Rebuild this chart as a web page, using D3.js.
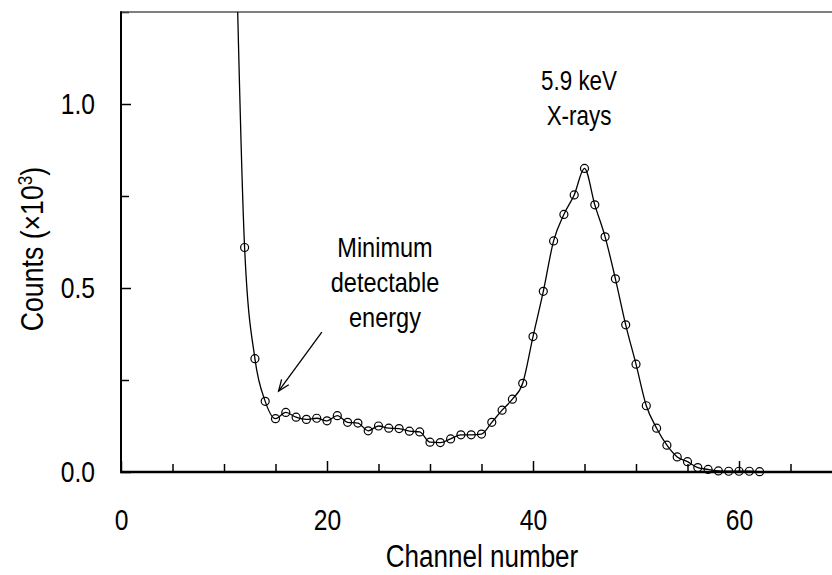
<!DOCTYPE html>
<html>
<head>
<meta charset="utf-8">
<script src="https://cdn.jsdelivr.net/npm/d3@7"></script>
<style>
  body { margin: 0; background: #fff; }
  svg { display: block; }
  text { font-family: "Liberation Sans", Arial, sans-serif; fill: #000; }
  .tick text { font-size: 30px; }
</style>
</head>
<body>
<div id="wrapper"></div>
<script>
// data (counts in units of 10^3)
const channels = [12, 13, 14, 15, 16, 17, 18, 19, 20, 21, 22, 23, 24, 25, 26, 27, 28, 29, 30, 31,
  32, 33, 34, 35, 36, 37, 38, 39, 40, 41, 42, 43, 44, 45, 46, 47, 48, 49, 50, 51,
  52, 53, 54, 55, 56, 57, 58, 59, 60, 61, 62]
const counts = [0.610, 0.308, 0.192, 0.145, 0.162, 0.149, 0.143, 0.146, 0.139, 0.153,
  0.135, 0.133, 0.112, 0.125, 0.119, 0.118, 0.111, 0.109, 0.081, 0.080,
  0.090, 0.101, 0.101, 0.103, 0.135, 0.168, 0.198, 0.241, 0.368, 0.491,
  0.628, 0.700, 0.753, 0.825, 0.726, 0.639, 0.525, 0.400, 0.293, 0.180,
  0.119, 0.073, 0.041, 0.028, 0.012, 0.007, 0.003, 0.002, 0.002, 0.002, 0.001]
// the fitted line keeps rising off the top of the plot below channel 12
const tailChannels = [11]
const tailCounts = [1.65]

const xMinorTicks = [5, 10, 15, 25, 30, 35, 45, 50, 55, 65]
const xMajorTicks = [0, 20, 40, 60]
const yMinorTicks = [0.25, 0.75, 1.25]
const yMajorTicks = [0.0, 0.5, 1.0]

const peakLabel = ["5.9 keV", "X-rays"]
const thresholdLabel = ["Minimum", "detectable", "energy"]

// the original uses a condensed face; squeeze Liberation Sans to match
const condense = (sel, k) => sel.each(function() {
  const len = this.getComputedTextLength()
  d3.select(this)
      .attr("textLength", len * k)
      .attr("lengthAdjust", "spacingAndGlyphs")
})

function drawChart() {
  const width = 832
  const height = 575
  const left = 121, right = 842, top = 12, bottom = 472

  const svg = d3.select("#wrapper")
    .append("svg")
      .attr("width", width)
      .attr("height", height)

  const x = d3.scaleLinear().domain([0, 70]).range([left, right])
  const y = d3.scaleLinear().domain([0, 1.25]).range([bottom, top])

  // axes (ticks point inward)
  svg.append("g")
      .attr("transform", `translate(0,${bottom})`)
      .call(d3.axisBottom(x).tickValues(xMinorTicks).tickSize(-8).tickFormat(""))
  svg.append("g")
      .attr("transform", `translate(0,${bottom})`)
      .call(d3.axisBottom(x).tickValues(xMajorTicks).tickSize(-11).tickPadding(37).tickFormat(d3.format("d")))
  svg.append("g")
      .attr("transform", `translate(${left},0)`)
      .call(d3.axisLeft(y).tickValues(yMinorTicks).tickSize(-8).tickFormat(""))
  svg.append("g")
      .attr("transform", `translate(${left},0)`)
      .call(d3.axisLeft(y).tickValues(yMajorTicks).tickSize(-10).tickPadding(26).tickFormat(d3.format(".1f")))

  svg.selectAll(".domain").remove()
  svg.selectAll(".tick line").attr("stroke", "#000").attr("stroke-width", 1.5)
  svg.selectAll(".tick text").attr("font-family", null).attr("font-size", null)
  condense(svg.selectAll(".tick text"), 0.82)

  // frame
  svg.append("line")
      .attr("x1", left).attr("x2", width)
      .attr("y1", top).attr("y2", top)
      .attr("stroke", "#555").attr("stroke-width", 1.5)
  svg.append("line")
      .attr("x1", left).attr("x2", left)
      .attr("y1", top - 0.75).attr("y2", bottom)
      .attr("stroke", "#000").attr("stroke-width", 2)
  svg.append("line")
      .attr("x1", left - 1).attr("x2", width)
      .attr("y1", bottom).attr("y2", bottom)
      .attr("stroke", "#000").attr("stroke-width", 2.5)

  // data line
  svg.append("clipPath").attr("id", "plot-clip")
    .append("rect")
      .attr("x", left).attr("y", top)
      .attr("width", right - left).attr("height", bottom - top)

  const linePoints = tailChannels.map((c, i) => [c, tailCounts[i]])
    .concat(channels.map((c, i) => [c, counts[i]]))

  const lineGenerator = d3.line()
      .x(d => x(d[0]))
      .y(d => y(d[1]))
      .curve(d3.curveMonotoneX)

  svg.append("path")
      .attr("clip-path", "url(#plot-clip)")
      .attr("d", lineGenerator(linePoints))
      .attr("fill", "none")
      .attr("stroke", "#000")
      .attr("stroke-width", 1.3)

  svg.append("g")
    .selectAll("circle")
    .data(channels)
    .join("circle")
      .attr("cx", d => x(d))
      .attr("cy", (d, i) => y(counts[i]))
      .attr("r", 4)
      .attr("fill", "none")
      .attr("stroke", "#000")
      .attr("stroke-width", 1.2)

  // axis titles
  const xTitle = svg.append("text")
      .attr("x", 482)
      .attr("y", 567)
      .attr("text-anchor", "middle")
      .style("font-size", "31px")
      .text("Channel number")
  condense(xTitle, 0.84)

  const yTitle = svg.append("text")
      .attr("transform", "translate(43,249) rotate(-90)")
      .attr("text-anchor", "middle")
      .style("font-size", "31px")
  yTitle.append("tspan").text("Counts (\u00d710")
  yTitle.append("tspan").attr("dy", -11).style("font-size", "20px").text("3")
  yTitle.append("tspan").attr("dy", 11).text(")")
  condense(yTitle, 0.86)

  // annotations
  const peak = svg.append("g")
    .selectAll("text")
    .data(peakLabel)
    .join("text")
      .attr("x", 579)
      .attr("y", (d, i) => 90 + i * 35)
      .attr("text-anchor", "middle")
      .style("font-size", "28px")
      .text(d => d)
  condense(peak, 0.8)

  const threshold = svg.append("g")
    .selectAll("text")
    .data(thresholdLabel)
    .join("text")
      .attr("x", 385)
      .attr("y", (d, i) => 257 + i * 35)
      .attr("text-anchor", "middle")
      .style("font-size", "28px")
      .text(d => d)
  condense(threshold, 0.84)

  // arrow pointing at the threshold
  const arrowFrom = [x(19.5), y(0.38)]
  const arrowTo = [x(15.3), y(0.22)]
  const ang = Math.atan2(arrowTo[1] - arrowFrom[1], arrowTo[0] - arrowFrom[0])
  const head = 12, spread = 0.38
  svg.append("line")
      .attr("x1", arrowFrom[0]).attr("y1", arrowFrom[1])
      .attr("x2", arrowTo[0]).attr("y2", arrowTo[1])
      .attr("stroke", "#000").attr("stroke-width", 1.3)
  svg.append("path")
      .attr("d", d3.line()([
        [arrowTo[0] - head * Math.cos(ang - spread), arrowTo[1] - head * Math.sin(ang - spread)],
        arrowTo,
        [arrowTo[0] - head * Math.cos(ang + spread), arrowTo[1] - head * Math.sin(ang + spread)],
      ]))
      .attr("fill", "none")
      .attr("stroke", "#000").attr("stroke-width", 1.3)
}
drawChart()
</script>
</body>
</html>
